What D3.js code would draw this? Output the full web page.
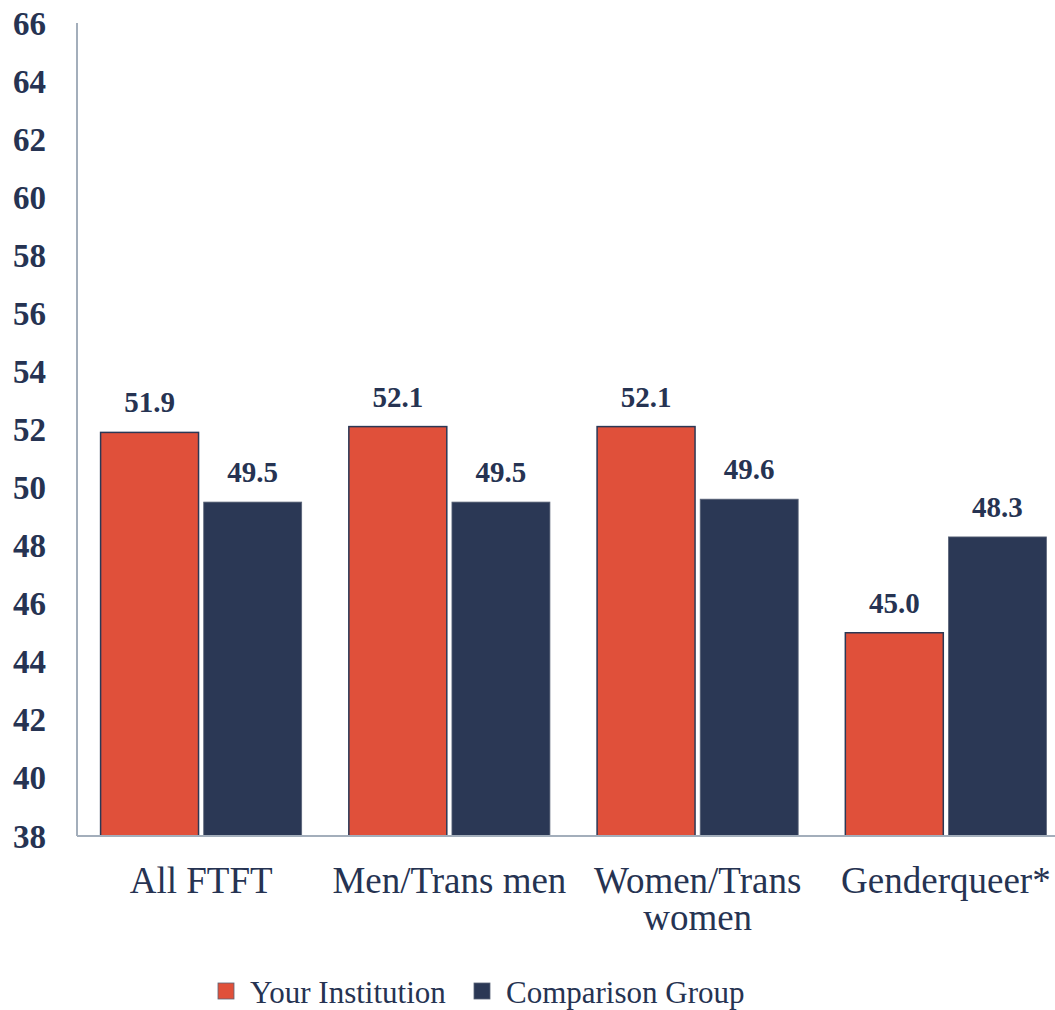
<!DOCTYPE html>
<html><head><meta charset="utf-8">
<script src="https://cdn.jsdelivr.net/npm/d3@7"></script>
<style>body{margin:0;background:#fff}</style>
</head><body><svg id="c" width="1055" height="1010"></svg>
<script>
const categories = [["All FTFT"], ["Men/Trans men"], ["Women/Trans", "women"], ["Genderqueer*"]];
const seriesNames = ["Your Institution", "Comparison Group"];
const yourInstitution = [51.9, 52.1, 52.1, 45.0];
const comparisonGroup = [49.5, 49.5, 49.6, 48.3];
const yTicks = [38, 40, 42, 44, 46, 48, 50, 52, 54, 56, 58, 60, 62, 64, 66];

const colors = ["#E0503A", "#2B3855"];
const textColor = "#263352";
const serif = "'Liberation Serif', 'DejaVu Serif', serif";

const svg = d3.select("#c");
const catKeys = categories.map(c => c.join(" "));
const data = catKeys.map((k, i) => ({key: k, lines: categories[i], values: [yourInstitution[i], comparisonGroup[i]]}));

const y = d3.scaleLinear().domain([38, 66]).range([836, 23]);
const x0 = d3.scaleBand().domain(catKeys).range([77, 1070]).paddingInner(0.19).paddingOuter(0.095);
const x1 = d3.scaleBand().domain(seriesNames).range([0, x0.bandwidth()]).paddingInner(0.05);

svg.append("line").attr("x1", 77).attr("x2", 77).attr("y1", y(66)).attr("y2", y(38))
  .attr("stroke", "#A3AEBB").attr("stroke-width", 2);

svg.append("g").selectAll("text").data(yTicks).join("text")
  .attr("x", 46).attr("y", d => y(d)).attr("dy", "0.35em")
  .attr("text-anchor", "end").attr("font-family", serif).attr("font-weight", "bold")
  .attr("font-size", 33).attr("fill", textColor).text(d => d);

const g = svg.append("g").selectAll("g").data(data).join("g")
  .attr("transform", d => `translate(${x0(d.key)},0)`);
g.selectAll("rect").data(d => d.values.map((v, i) => ({v, s: seriesNames[i], i}))).join("rect")
  .attr("x", d => x1(d.s)).attr("width", x1.bandwidth())
  .attr("y", d => y(d.v)).attr("height", d => y(38) - y(d.v))
  .attr("fill", d => colors[d.i])
  .attr("stroke", d => d.i === 0 ? "#2B3855" : "#5A6478").attr("stroke-width", d => d.i === 0 ? 1.5 : 0.8);
g.selectAll("text.val").data(d => d.values.map((v, i) => ({v, s: seriesNames[i], i}))).join("text")
  .attr("class", "val")
  .attr("x", d => x1(d.s) + x1.bandwidth() / 2).attr("y", d => y(d.v) - 20)
  .attr("text-anchor", "middle").attr("font-family", serif).attr("font-weight", "bold")
  .attr("font-size", 29).attr("fill", textColor).text(d => d.v.toFixed(1));

svg.append("line").attr("x1", 77).attr("x2", 1055).attr("y1", y(38)).attr("y2", y(38))
  .attr("stroke", "#A3AEBB").attr("stroke-width", 2);

const cl = svg.append("g").selectAll("text").data(data).join("text")
  .attr("x", d => x0(d.key) + x0.bandwidth() / 2).attr("y", 893)
  .attr("text-anchor", "middle").attr("font-family", serif)
  .attr("font-size", 37).attr("fill", textColor);
cl.selectAll("tspan").data(d => d.lines.map(l => ({l, x: x0(d.key) + x0.bandwidth() / 2}))).join("tspan")
  .attr("x", d => d.x).attr("dy", (d, i) => i === 0 ? 0 : 37).text(d => d.l);

const legendX = [218, 474];
const lg = svg.append("g").selectAll("g").data(seriesNames).join("g")
  .attr("transform", (d, i) => `translate(${legendX[i]},983)`);
lg.append("rect").attr("width", 16).attr("height", 16).attr("fill", (d, i) => colors[i])
  .attr("stroke", "#5A6478").attr("stroke-width", 0.8);
lg.append("text").attr("x", 32).attr("y", 20).attr("font-family", serif).attr("font-size", 31)
  .attr("fill", textColor).text(d => d);
</script></body></html>
